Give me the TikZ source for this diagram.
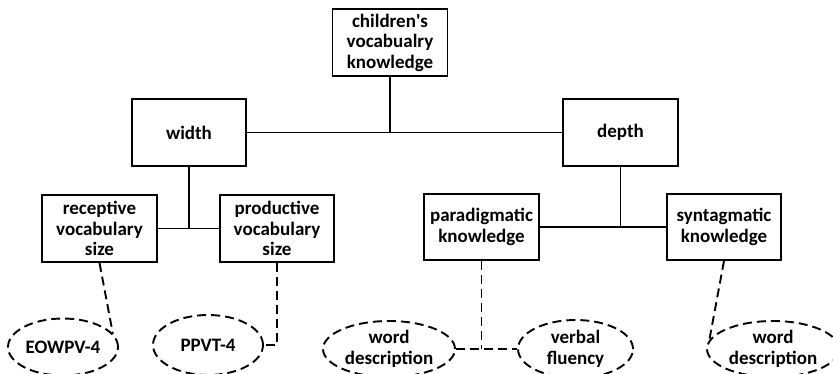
\documentclass[tikz,border=0pt]{standalone}
\usepackage{fontspec}
\setmainfont{Carlito}
\usetikzlibrary{shapes.geometric}
\tikzset{
  box/.style={draw, line width=1.8pt, align=center, inner sep=0pt,
    font=\fontsize{19}{20.5}\selectfont\bfseries},
  oval/.style={ellipse, draw, line width=1.9pt, dash pattern=on 9pt off 5pt,
    align=center, inner sep=0pt, font=\fontsize{19}{20.5}\selectfont\bfseries},
  solidline/.style={line width=1.9pt},
  dashline/.style={line width=1.9pt, dash pattern=on 9pt off 5pt}
}
\begin{document}
\begin{tikzpicture}[x=1pt,y=-1pt]
\useasboundingbox (0,0) rectangle (833,373);
\clip (0,0) rectangle (833,373);
\fill[white] (0,0) rectangle (833,373);
% boxes
\node[box, minimum width=115pt, minimum height=67pt] (top) at (390,42.5) {children\textquotesingle s\\vocabualry\\knowledge};
\node[box, minimum width=114pt, minimum height=67pt] (width) at (189,132.5) {width};
\node[box, minimum width=115pt, minimum height=67pt] (depth) at (620.5,132.5) {depth};
\node[box, minimum width=115pt, minimum height=67pt] (rec) at (99.5,228.5) {receptive\\vocabulary\\size};
\node[box, minimum width=114pt, minimum height=67pt] (prod) at (277,228.5) {productive\\vocabulary\\size};
\node[box, minimum width=115pt, minimum height=66pt] (para) at (481.5,227) {paradigmatic\\knowledge};
\node[box, minimum width=114pt, minimum height=66pt] (synt) at (724,227) {syntagmatic\\knowledge};
% ellipses
\node[oval, minimum width=110pt, minimum height=57pt] (eow) at (63,347) {EOWPV-4};
\node[oval, minimum width=110pt, minimum height=60pt] (ppvt) at (208,345) {PPVT-4};
\node[oval, minimum width=132pt, minimum height=56pt] (wd) at (389,349) {word\\description};
\node[oval, minimum width=115pt, minimum height=58pt] (vf) at (575.5,349) {verbal\\fluency};
\node[oval, minimum width=132pt, minimum height=56pt] (wdr) at (773,349) {word\\description};
% solid connectors
\draw[solidline] (top.south) -- (top.south |- width.east);
\draw[line width=1.5pt] (width.east) -- (depth.west);
\draw[solidline] (width.south) -- (width.south |- rec.east);
\draw[solidline] (rec.east) -- (prod.west);
\draw[solidline] (depth.south) -- (depth.south |- para.east);
\draw[solidline] (para.east) -- (synt.west);
% dashed connectors
\draw[dashline] (rec.south) -- (eow.15);
\draw[dashline] (prod.south) |- (ppvt.east);
\draw[dashline] (wd.east) -- (vf.west);
\draw[dashline] (para.south) -- (para.south |- wd.east);
\draw[dashline] (synt.south) -- (wdr.172);
\end{tikzpicture}
\end{document}
